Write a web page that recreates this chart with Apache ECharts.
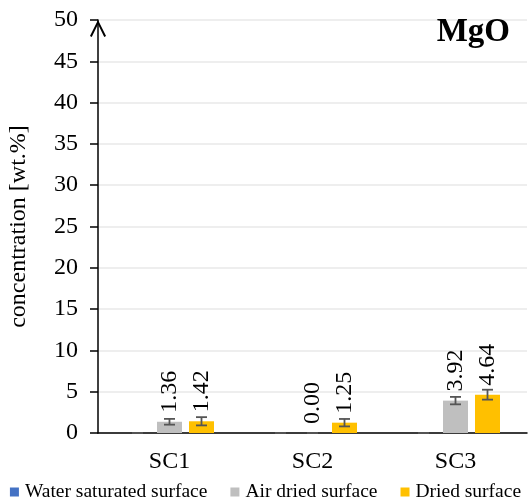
<!DOCTYPE html>
<html>
<head>
<meta charset="utf-8">
<script src="https://cdn.jsdelivr.net/npm/echarts@6/dist/echarts.min.js"></script>
<style>html,body{margin:0;padding:0;background:#fff;}#c{width:531px;height:503px;}</style>
</head>
<body>
<div id="c"></div>
<script>
const categories = ['SC1', 'SC2', 'SC3'];
const seriesNames = ['Water saturated surface', 'Air dried surface', 'Dried surface'];
const waterValues = [0, 0, 0];
const airValues = [1.36, 0.00, 3.92];
const driedValues = [1.42, 1.25, 4.64];
const waterErrors = [0, 0, 0];
const airErrors = [0.35, 0, 0.45];
const driedErrors = [0.5, 0.45, 0.6];
const yTicks = [0, 5, 10, 15, 20, 25, 30, 35, 40, 45, 50];

const FONT = '"Liberation Serif", "Times New Roman", serif';
const colors = ['#4472C4', '#BFBFBF', '#FFC000'];
const BAR_W = 25, GAP = 7;

const values = [waterValues, airValues, driedValues];
const errors = [waterErrors, airErrors, driedErrors];

const chart = echarts.init(document.getElementById('c'));

const series = [];
values.forEach((vals, i) => {
  series.push({
    name: seriesNames[i],
    type: 'bar',
    data: vals,
    barWidth: BAR_W,
    barGap: (GAP / BAR_W * 100) + '%',
    itemStyle: { color: colors[i] },
    label: {
      show: i > 0,
      position: 'top',
      rotate: 90,
      distance: 9,
      align: 'left',
      verticalAlign: 'middle',
      fontFamily: FONT,
      fontSize: 24,
      color: '#000',
      formatter: p => p.value.toFixed(2)
    },
    z: 2
  });
});
values.forEach((vals, i) => {
  series.push({
    type: 'custom',
    name: seriesNames[i] + ' err',
    data: vals.map((v, k) => [k, v, errors[i][k]]),
    renderItem: function (params, api) {
      const k = api.value(0), v = api.value(1), e = api.value(2);
      const off = (i - 1) * (BAR_W + GAP);
      const top = api.coord([k, v + e]);
      const bot = api.coord([k, v - e]);
      const x = top[0] + off;
      const hw = 5.5;
      const st = { stroke: '#555555', lineWidth: 1.8, fill: null };
      return {
        type: 'group',
        children: [
          { type: 'line', shape: { x1: x, y1: top[1], x2: x, y2: bot[1] }, style: st },
          { type: 'line', shape: { x1: x - hw, y1: top[1], x2: x + hw, y2: top[1] }, style: st },
          { type: 'line', shape: { x1: x - hw, y1: bot[1], x2: x + hw, y2: bot[1] }, style: st }
        ]
      };
    },
    z: 5,
    silent: true
  });
});

chart.setOption({
  animation: false,
  title: {
    text: 'MgO',
    right: 16,
    top: 11,
    textStyle: { fontFamily: FONT, fontSize: 33, fontWeight: 'bold', color: '#000' }
  },
  legend: {
    data: seriesNames,
    top: 477,
    left: 'center',
    width: 540,
    padding: [5, 0, 5, 7],
    itemWidth: 9,
    itemHeight: 9,
    itemGap: 23,
    icon: 'rect',
    textStyle: { fontFamily: FONT, fontSize: 19.5, color: '#000', padding: [0, 0, 0, 1] }
  },
  grid: { left: 98, right: 4, top: 20, bottom: 70, outerBoundsMode: 'none', containLabel: false },
  xAxis: {
    type: 'category',
    data: categories,
    axisLine: { lineStyle: { color: '#000', width: 1.5 } },
    axisTick: { show: false },
    axisLabel: { fontFamily: FONT, fontSize: 24, color: '#000', margin: 17 }
  },
  yAxis: {
    type: 'value',
    min: 0,
    max: 50,
    interval: 5,
    name: 'concentration [wt.%]',
    nameLocation: 'middle',
    nameGap: 67,
    nameTextStyle: { fontFamily: FONT, fontSize: 24, color: '#000' },
    axisLine: {
      show: true,
      lineStyle: { color: '#000', width: 1.5 },
      symbol: ['none', 'path://M0,10 L5,0 L10,10 L8.9,10.6 L5,2.6 L1.1,10.6 Z'],
      symbolSize: [18, 17],
      symbolOffset: [0, -8.5]
    },
    axisTick: { show: true, length: 8, lineStyle: { color: '#000', width: 1.5 } },
    axisLabel: { fontFamily: FONT, fontSize: 24, color: '#000', margin: 20 },
    splitLine: { lineStyle: { color: '#E8E8E8', width: 1.5 } }
  },
  series: series
});
</script>
</body>
</html>
